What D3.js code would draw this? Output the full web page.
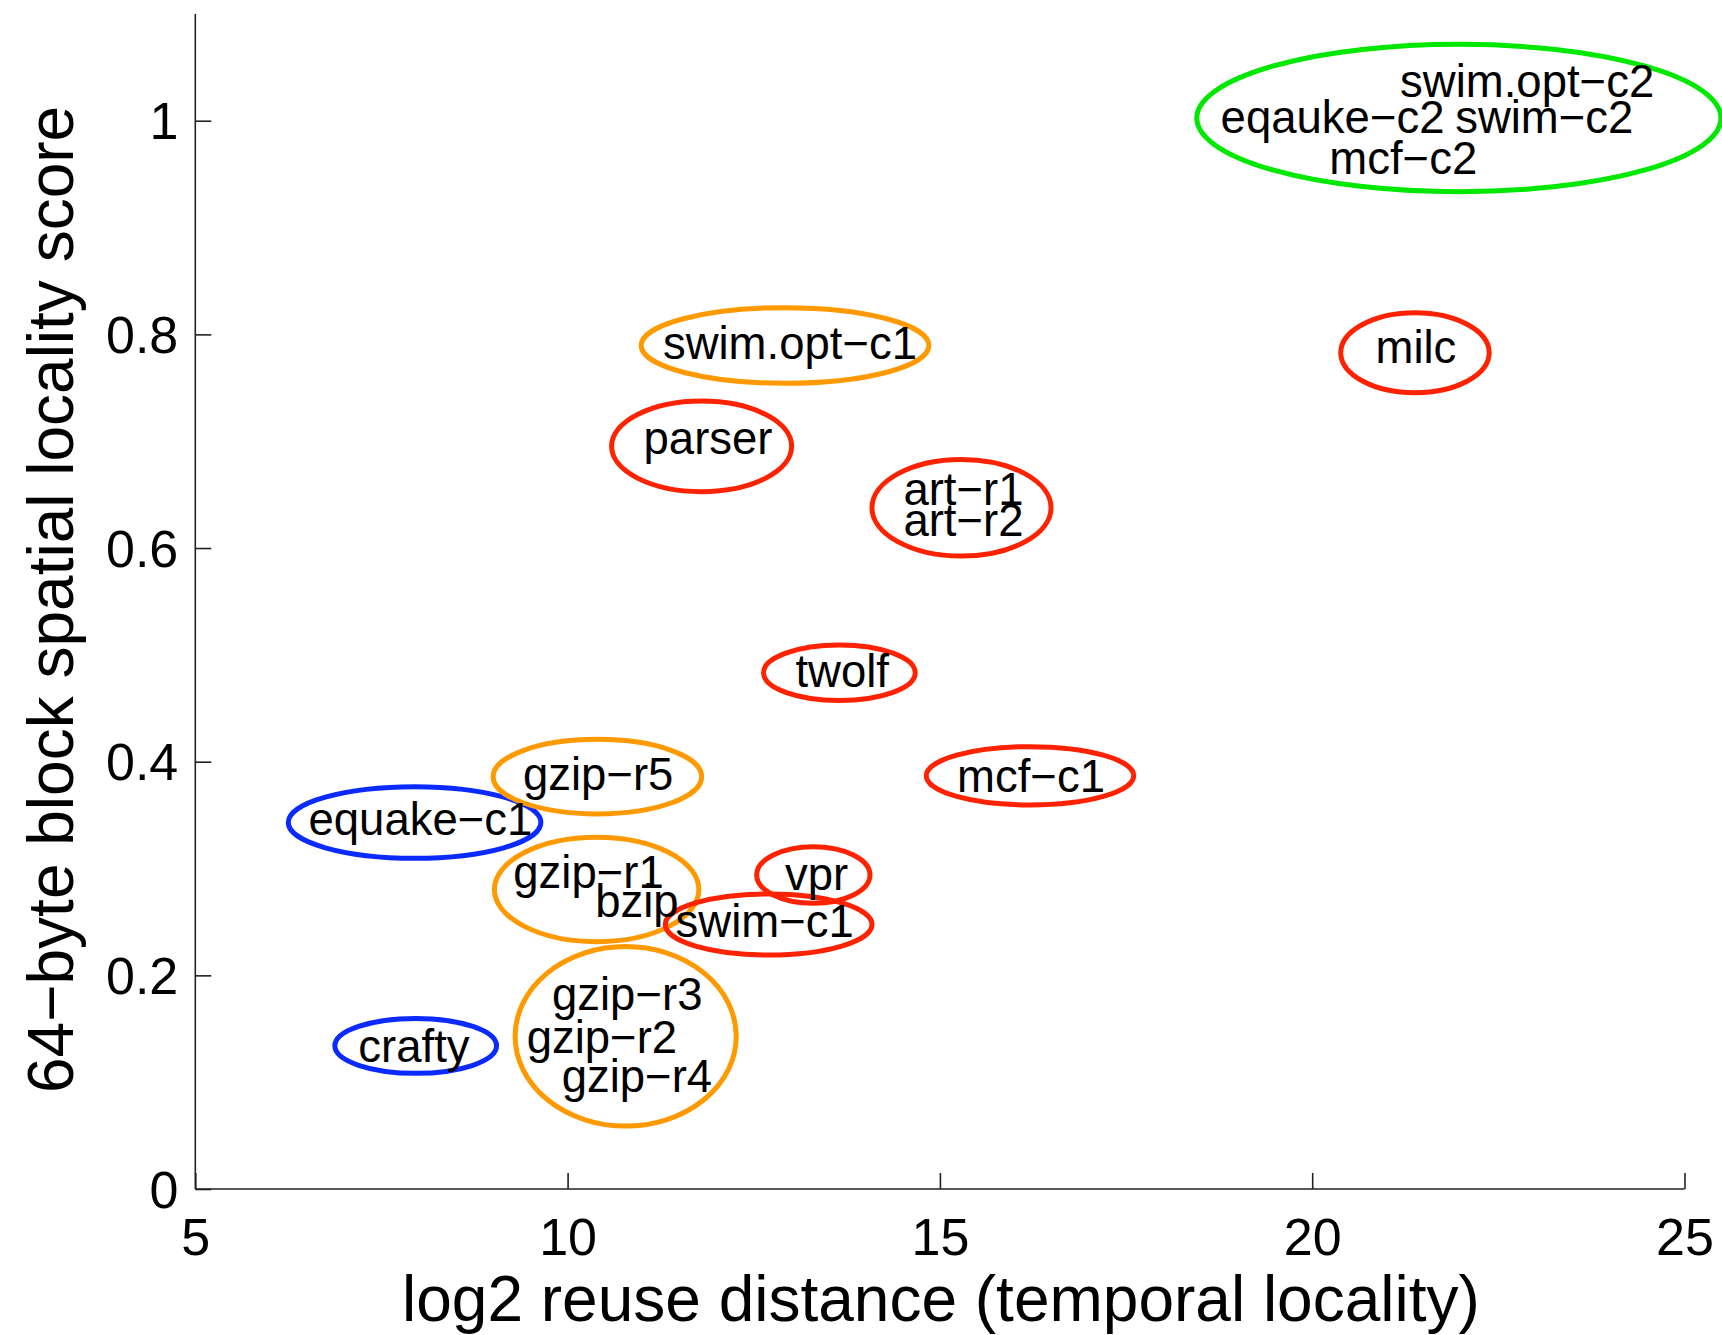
<!DOCTYPE html>
<html>
<head>
<meta charset="utf-8">
<script src="https://cdn.jsdelivr.net/npm/d3@7"></script>
<style>
  html, body { margin: 0; padding: 0; background: #fff; }
  svg { display: block; }
  text { font-family: "Liberation Sans", Arial, Helvetica, sans-serif; fill: #000; }
</style>
</head>
<body>
<svg id="chart" width="1722" height="1335"></svg>
<script>
// ---- tick values / labels ----
const xTicks = [5, 10, 15, 20, 25];
const xTickLabels = ["5", "10", "15", "20", "25"];
const yTicks = [0, 0.2, 0.4, 0.6, 0.8, 1];
const yTickLabels = ["0", "0.2", "0.4", "0.6", "0.8", "1"];
const xTitle = "log2 reuse distance (temporal locality)";
const yTitle = "64\u2212byte block spatial locality score";

// ---- benchmark labels (x = log2 reuse distance at label start, y = score at baseline) ----
const benchNames = ["swim.opt\u2212c2", "eqauke\u2212c2", "swim\u2212c2", "mcf\u2212c2",
  "swim.opt\u2212c1", "parser", "art\u2212r1", "art\u2212r2", "milc", "twolf", "mcf\u2212c1",
  "equake\u2212c1", "gzip\u2212r5", "gzip\u2212r1", "bzip", "vpr", "swim\u2212c1",
  "gzip\u2212r3", "gzip\u2212r2", "gzip\u2212r4", "crafty"];
const benchX = [21.18, 18.77, 21.92, 20.23,
  11.28, 11.02, 14.51, 14.51, 20.85, 13.06, 15.23,
  6.52, 9.40, 9.27, 10.37, 12.92, 11.45,
  9.79, 9.45, 9.92, 7.19];
const benchY = [1.022, 0.9885, 0.9885, 0.950,
  0.777, 0.6877, 0.6403, 0.6113, 0.7729, 0.4702, 0.3719,
  0.3314, 0.3735, 0.2815, 0.2549, 0.2799, 0.2362,
  0.1676, 0.127, 0.0911, 0.1192];

// ---- cluster ellipses (centre and radii in data units) ----
const clusterGroup = ["green", "orange", "red", "red", "red", "red", "red",
  "blue", "orange", "orange", "red", "red", "orange", "blue"];
const clusterCX = [21.97, 12.92, 11.80, 15.29, 21.38, 13.65, 16.21,
  7.945, 10.40, 10.39, 13.30, 12.70, 10.78, 7.96];
const clusterCY = [1.0025, 0.7896, 0.6952, 0.6377, 0.7828, 0.4832, 0.3868,
  0.3431, 0.386, 0.2804, 0.2939, 0.2476, 0.1429, 0.134];
const clusterRX = [3.52, 1.932, 1.209, 1.2025, 0.997, 1.019, 1.393,
  1.696, 1.40, 1.373, 0.761, 1.388, 1.485, 1.086];
const clusterRY = [0.069, 0.0354, 0.0424, 0.0452, 0.0374, 0.026, 0.0273,
  0.0335, 0.0349, 0.0489, 0.0265, 0.0286, 0.084, 0.0257];

const groupNames = ["green", "orange", "red", "blue"];
const groupColors = ["#00e800", "#ff9900", "#ff2200", "#0a2aff"];

// ---- drawing ----
const svg = d3.select("#chart");
svg.append("rect").attr("width", 1722).attr("height", 1335).attr("fill", "#fff");

const x = d3.scaleLinear().domain([5, 25]).range([195.3, 1684.5]);
const y = d3.scaleLinear().domain([0, 1.1]).range([1189, 13.9]);
const color = d3.scaleOrdinal().domain(groupNames).range(groupColors);

const FONT = '"Liberation Sans", Arial, Helvetica, sans-serif';

// axes
const xAxis = d3.axisBottom(x).tickValues(xTicks)
  .tickFormat((d, i) => xTickLabels[i]).tickSizeInner(-16).tickSizeOuter(0).tickPadding(29);
const yAxis = d3.axisLeft(y).tickValues(yTicks)
  .tickFormat((d, i) => yTickLabels[i]).tickSizeInner(-16).tickSizeOuter(0).tickPadding(17);

const gx = svg.append("g").attr("transform", `translate(0,${y(0)})`).call(xAxis);
const gy = svg.append("g").attr("transform", `translate(${x(5)},0)`).call(yAxis);
gy.select(".domain").attr("d", `M0,${y(0)}V${y(1.1)}`);
gx.select(".domain").attr("d", `M${x(5)},0H${x(25)}`);

[gx, gy].forEach(g => {
  g.attr("font-family", FONT).attr("font-size", 52);
  g.selectAll(".domain").attr("stroke", "#222").attr("stroke-width", 1.6);
  g.selectAll(".tick line").attr("stroke", "#222").attr("stroke-width", 1.6);
  g.selectAll(".tick text").attr("fill", "#000");
});
gy.selectAll(".tick text").attr("dy", "0.35em");

// titles
svg.append("text")
  .attr("x", (x(5) + x(25)) / 2 + 1).attr("y", 1321)
  .attr("text-anchor", "middle").attr("font-size", 64)
  .text(xTitle);
svg.append("text")
  .attr("transform", `translate(73,${(y(0) + y(1.1)) / 2 - 2}) rotate(-90)`)
  .attr("text-anchor", "middle").attr("font-size", 64)
  .text(yTitle);

// ellipses
svg.append("g").selectAll("ellipse")
  .data(clusterGroup.map((g, i) => ({ g, cx: clusterCX[i], cy: clusterCY[i], rx: clusterRX[i], ry: clusterRY[i] })))
  .join("ellipse")
  .attr("cx", d => x(d.cx))
  .attr("cy", d => y(d.cy))
  .attr("rx", d => x(d.cx + d.rx) - x(d.cx))
  .attr("ry", d => y(d.cy) - y(d.cy + d.ry))
  .attr("fill", "none")
  .attr("stroke", d => color(d.g))
  .attr("stroke-width", 5);

// labels
svg.append("g").selectAll("text")
  .data(benchNames.map((n, i) => ({ n, x: benchX[i], y: benchY[i] })))
  .join("text")
  .attr("x", d => x(d.x))
  .attr("y", d => y(d.y))
  .attr("font-size", 45.5)
  .text(d => d.n);
</script>
</body>
</html>
